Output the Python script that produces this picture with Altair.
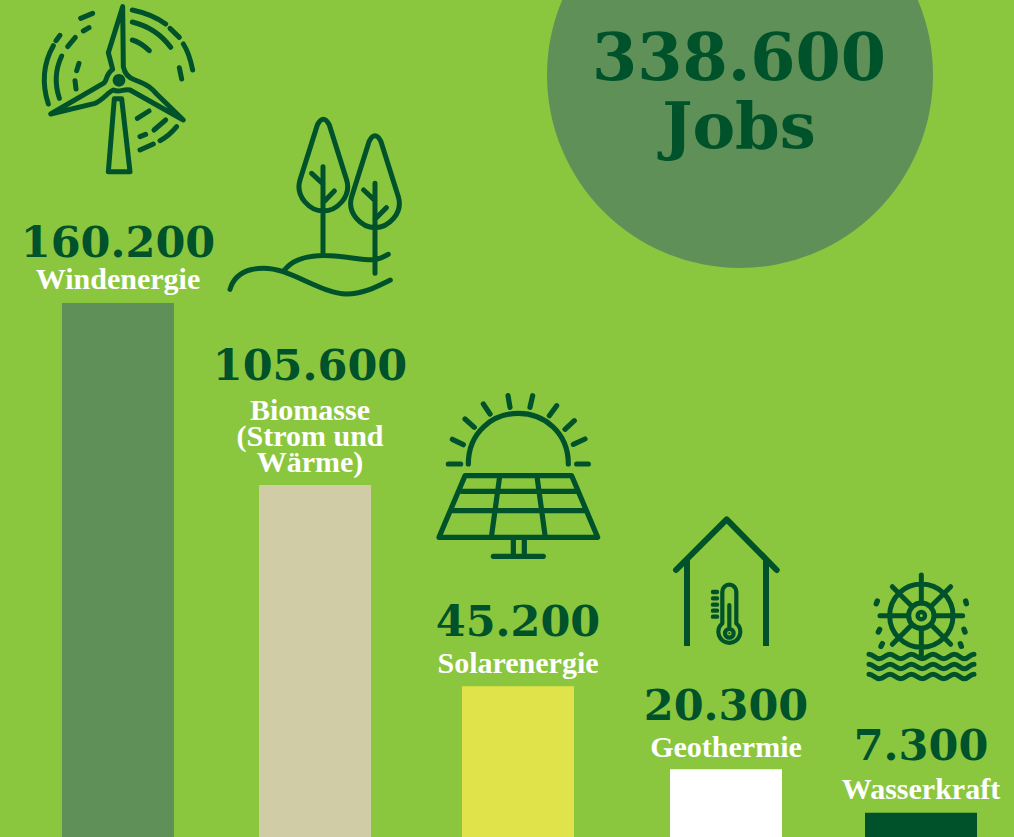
import altair as alt
import pandas as pd

# ---- values
categories = ["Windenergie", "Biomasse", "Solarenergie", "Geothermie", "Wasserkraft"]
jobs = [160200, 105600, 45200, 20300, 7300]
number_labels = ["160.200", "105.600", "45.200", "20.300", "7.300"]
name_lines = [["Windenergie"], ["Biomasse", "(Strom und", "Wärme)"], ["Solarenergie"], ["Geothermie"], ["Wasserkraft"]]
total_lines = ["338.600", "Jobs"]

# ---- layout and style
BG = "#8bc63f"
DARK = "#00522a"
bar_colors = ["#5f9058", "#cfcca6", "#e1e34a", "#ffffff", "#00522a"]
bar_centers = [118, 315, 518, 726, 921]
text_dx = [0, -5, 0, 0, 0]
number_dy = [-46, -105, -50, -49, -53]
name_dy = [[-14], [-65, -39, -13], [-13], [-12], [-14]]
W, H = 1014, 837

df = pd.DataFrame({"cat": categories, "jobs": jobs, "xc": bar_centers})
xs = alt.Scale(domain=[0, W], range=[0, W], padding=0, nice=False)
ys = alt.Scale(domain=[0, 251100], range=[H, 0], nice=False, zero=True)
X = alt.X("xc:Q", scale=xs, axis=None)
Y = alt.Y("jobs:Q", scale=ys, axis=None)
one = pd.DataFrame({"k": [0]})
NUM_FONT = "DejaVu Serif"
NAME_FONT = "Liberation Serif"


def icon(path, x0, y0, sw=4.0, cap="round", filled=False, color=DARK):
    kw = dict(shape=path, size=4 / 9, opacity=1, strokeJoin="round", strokeCap=cap)
    if filled:
        kw.update(filled=True, fill=color, strokeWidth=0)
    else:
        kw.update(filled=False, fill="transparent", stroke=color, strokeWidth=sw)
    return alt.Chart(one).mark_point(**kw).encode(x=alt.value(x0), y=alt.value(y0))


def circ(cx, cy, r):
    return f"M {cx-r} {cy} a {r} {r} 0 1 0 {2*r} 0 a {r} {r} 0 1 0 {-2*r} 0 Z"


# ---- pictograms, drawn in 3x coordinates relative to their corner
wind = (
    "M 308 20 L 310 200 C 315 225 330 235 345 240 C 385 255 395 265 410 282 L 490 360 "
    "L 330 270 C 310 265 300 280 280 270 C 265 275 250 300 225 310 L 92 342 L 250 250 "
    "C 262 245 255 225 278 208 L 265 158 Z "
    "M 283 296 L 305 296 L 330 515 L 265 515 Z "
    "M 337 30 C 375 38 410 52 437 72 M 450 85 L 478 112 M 490 132 C 505 155 512 180 518 210 "
    "M 337 66 C 385 78 425 105 452 142 M 337 120 C 355 125 372 137 388 152 M 478 203 L 485 237 "
    "M 182 55 L 218 40 M 190 93 L 207 83 M 108 122 L 120 106 M 143 140 L 166 112 "
    "M 100 137 C 70 190 65 250 85 312 M 125 168 C 105 210 105 255 118 295 "
    "M 170 212 L 177 190 M 165 242 L 168 267 "
    "M 352 355 L 387 333 M 402 390 L 437 360 M 420 422 C 440 412 455 398 470 380 "
    "M 360 410 L 377 403 M 360 450 L 400 432"
)
trees = (
    "M 292 45 Q 310 10 328 45 L 380 210 C 395 260 350 303 310 303 C 270 303 225 260 240 210 Z "
    "M 309 170 L 309 435 M 275 190 L 309 222 M 343 243 L 309 278 "
    "M 447 95 Q 465 60 483 95 L 535 260 C 550 310 505 353 465 353 C 425 353 380 310 395 260 Z "
    "M 465 220 L 465 490 M 431 240 L 465 272 M 499 293 L 465 328 "
    "M 30 538 C 50 470 130 465 190 485 C 260 510 320 550 380 552 C 430 552 470 530 511 510 "
    "M 190 485 C 220 440 280 435 330 437 C 390 440 450 455 470 448 C 485 445 495 438 505 433"
)
solar = (
    "M 115 237 C 115 140 190 85 265 85 C 340 85 415 140 415 237 "
    "M 55 237 L 92 237 M 67 163 L 100 179 M 105 102 L 133 127 M 160 57 L 180 87 "
    "M 234 32 L 240 67 M 308 32 L 300 67 M 380 62 L 358 92 M 433 107 L 405 133 "
    "M 465 162 L 430 178 M 440 237 L 475 237 "
    "M 105 272 L 425 272 L 503 457 L 27 457 Z "
    "M 95 319 L 440 319 M 70 377 L 465 377 M 208 282 L 185 450 M 322 282 L 345 450 "
    "M 250 462 L 250 512 M 283 462 L 283 512 M 190 514 L 340 514"
)
house_roof = "M 33 180 L 185 28 L 335 180"
house_walls = "M 66 150 L 66 408 M 303 150 L 303 408"
thermo = (
    "M 172 340 L 172 245 A 21 21 0 0 1 214 245 L 214 340 A 33 33 0 1 1 172 340 Z "
    "M 193 285 L 193 350"
)
ticks = "M 144 246 L 156 246 M 144 265 L 156 265 M 144 284 L 156 284 M 144 302 L 156 302 M 144 320 L 156 320"
wheel = (
    circ(184, 152, 95) + " " + circ(184, 152, 38) + " "
    "M 184 30 L 184 115 M 184 190 L 184 275 M 60 152 L 145 152 M 222 152 L 308 152 "
    "M 97 65 L 157 125 M 272 65 L 212 125 M 97 238 L 157 178 M 272 238 L 212 178"
)
drops = (
    "M 49 116 L 52 108 M 55 201 L 59 193 M 63 244 L 67 236 "
    "M 319 116 L 317 108 M 315 201 L 312 193 M 304 244 L 301 236"
)


def wave(y):
    p = f"M 27 {y}"
    xs_ = [58, 90, 122, 154, 187, 219, 251, 283, 313, 342]
    prev_x, prev_y = 27, y
    for i, x in enumerate(xs_):
        ny = y + 13 if i % 2 == 0 else y
        p += f" C {prev_x+14} {prev_y} {x-14} {ny} {x} {ny}"
        prev_x, prev_y = x, ny
    return p


waves = " ".join(wave(y) for y in (268, 298, 328))

layers = []
# circle
layers.append(
    alt.Chart(one).mark_point(shape="circle", size=386 ** 2, filled=True, fill="#5f9058", opacity=1, strokeWidth=0)
    .encode(x=alt.value(740), y=alt.value(75))
)
# bars
layers.append(
    alt.Chart(df).mark_bar(width=112).encode(
        x=X, y=Y,
        color=alt.Color("cat:N", scale=alt.Scale(domain=categories, range=bar_colors), legend=None),
    )
)
# numbers and names
for i, cat in enumerate(categories):
    row = df[df.cat == cat].assign(t=number_labels[i])
    layers.append(
        alt.Chart(row).mark_text(font=NUM_FONT, fontWeight="bold", fontSize=43, color=DARK, baseline="alphabetic",
                                 align="center", dy=number_dy[i], dx=text_dx[i]).encode(x=X, y=Y, text="t:N")
    )
    for line, dy in zip(name_lines[i], name_dy[i]):
        r2 = df[df.cat == cat].assign(t=line)
        layers.append(
            alt.Chart(r2).mark_text(font=NAME_FONT, fontWeight="bold", fontSize=30, color="#ffffff",
                                    baseline="alphabetic", align="center", dy=dy, dx=text_dx[i]).encode(x=X, y=Y, text="t:N")
        )
# total
for text, yy, fs in zip(total_lines, (80, 148), (65, 64)):
    layers.append(
        alt.Chart(pd.DataFrame({"t": [text]})).mark_text(font=NUM_FONT, fontWeight="bold", fontSize=fs, color=DARK,
                                                          baseline="alphabetic", align="center")
        .encode(x=alt.value(739), y=alt.value(yy), text="t:N")
    )
# pictograms
layers += [
    icon(wind, 20, 0, 5),
    icon(circ(297, 241, 19), 20, 0, filled=True),
    icon(trees, 220, 110, 5),
    icon(solar, 430, 385, 5.2),
    icon(house_roof, 665, 510, 6),
    icon(house_walls, 665, 510, 6, cap="butt"),
    icon(thermo, 665, 510, 4.2),
    icon(circ(193, 370, 13), 665, 510, 4.2),
    icon(circ(193, 370, 3), 665, 510, filled=True),
    icon(ticks, 665, 510, 4.4),
    icon(wheel, 860, 565, 5),
    icon(circ(184, 152, 11), 860, 565, 4.4),
    icon(drops, 860, 565, 5.4),
    icon(waves, 860, 565, 5),
]

chart = (
    alt.layer(*layers)
    .resolve_scale(color="independent")
    .properties(
        width=W, height=H, padding=0, background=BG,
        autosize=alt.AutoSizeParams(type="none"),
    )
    .configure_view(stroke=None)
)

chart.save("out.html", embed_options={"renderer": "svg", "actions": False,
                                      "defaultStyle": f"html,body{{margin:0;padding:0;overflow:hidden;background:{BG}}} svg{{display:block}}"})
